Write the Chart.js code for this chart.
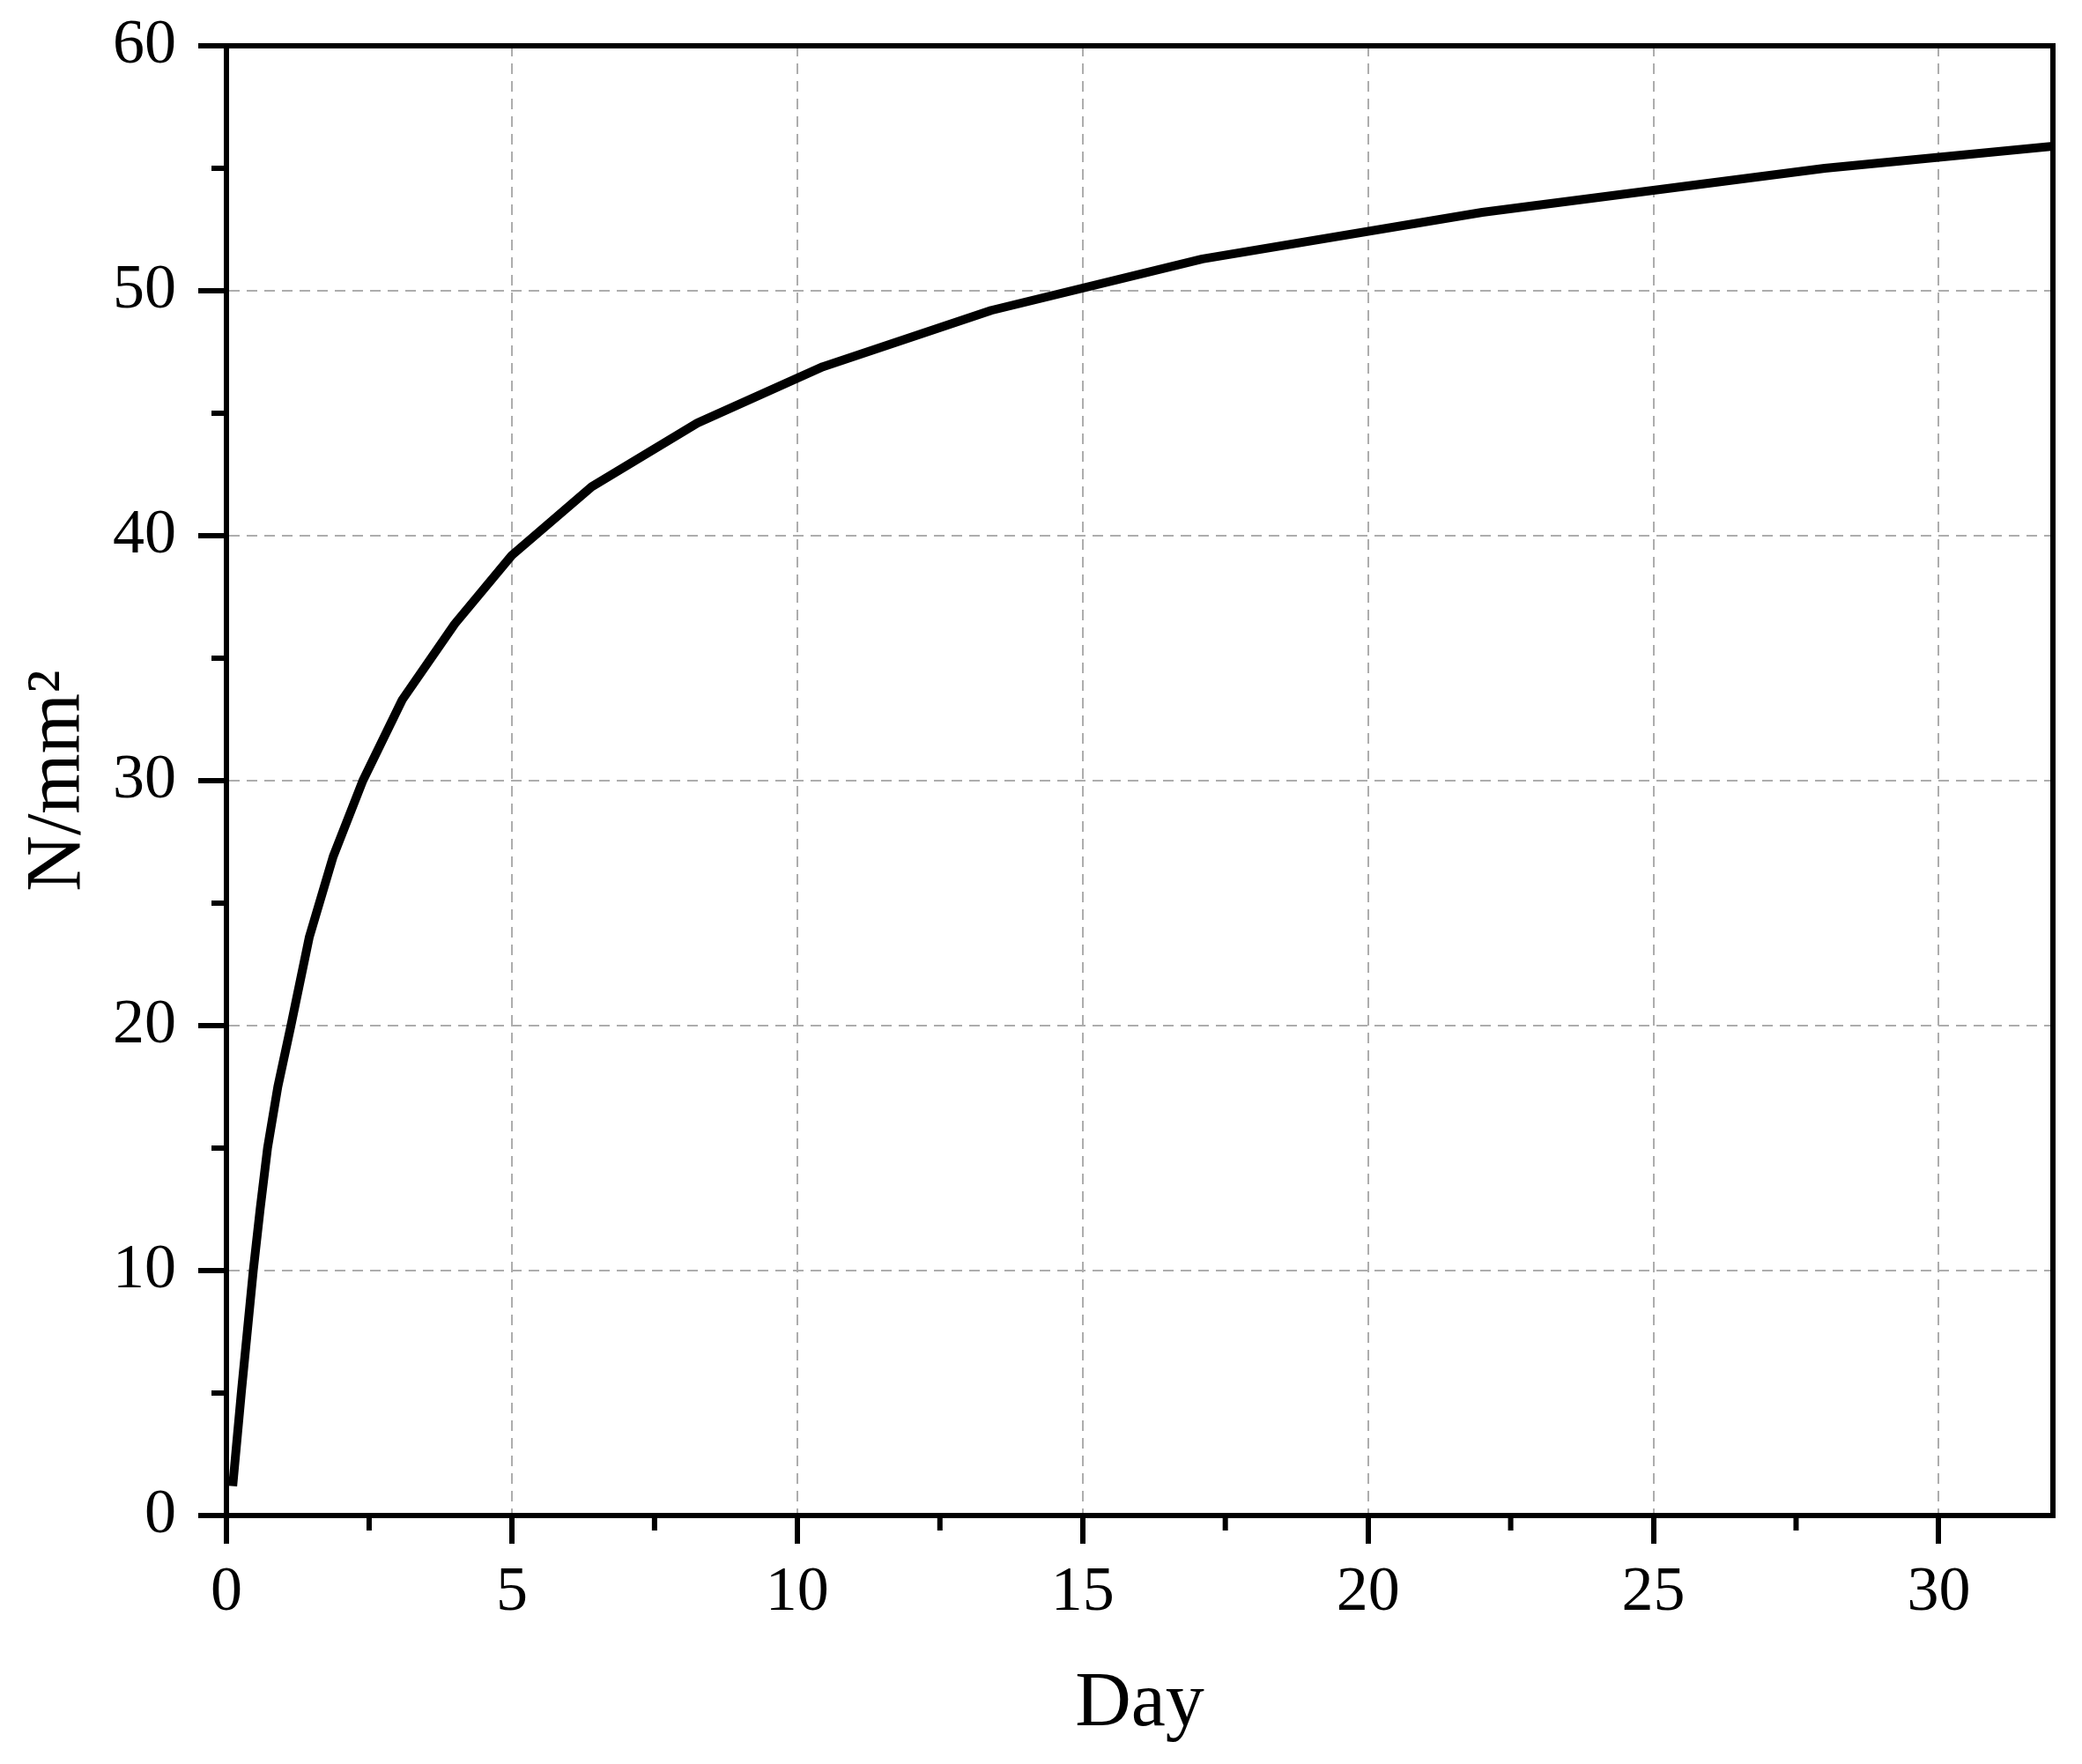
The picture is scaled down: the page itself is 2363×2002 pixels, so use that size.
<!DOCTYPE html>
<html>
<head>
<meta charset="utf-8">
<script src="https://cdn.jsdelivr.net/npm/chart.js@4/dist/chart.umd.min.js"></script>
<style>
  html, body { margin: 0; padding: 0; background: #ffffff; }
  #wrap { width: 2363px; height: 2002px; }
</style>
</head>
<body>
<div id="wrap"><canvas id="c" width="2363" height="2002"></canvas></div>
<script>
// ---- data ----
const days     = [0.11, 0.26, 0.47, 0.59, 0.72, 0.90, 1.13, 1.45, 1.87, 2.39, 3.08, 4.0, 5.0, 6.4, 8.25, 10.45, 13.4, 17.1, 22.0, 28.0, 32.0];
const strength = [1.2, 5.0, 10.0, 12.5, 15.0, 17.5, 20.0, 23.6, 26.9, 30.0, 33.3, 36.4, 39.2, 42.0, 44.6, 46.9, 49.2, 51.3, 53.2, 55.0, 55.9];

const xTicksMajor = [0, 5, 10, 15, 20, 25, 30];
const xTicksMinor = [2.5, 7.5, 12.5, 17.5, 22.5, 27.5];
const yTicksMajor = [0, 10, 20, 30, 40, 50, 60];
const yTicksMinor = [5, 15, 25, 35, 45, 55];

const xTitle = 'Day';
const yTitle = 'N/mm\u00B2';

const points = days.map((d, i) => ({ x: d, y: strength[i] }));

const AXIS_W = 6;
const GRID_COLOR = '#adadad';
const FONT = "'Liberation Serif', 'Times New Roman', serif";

const framePlugin = {
  id: 'frameAndMinor',
  afterDraw(chart) {
    const ctx = chart.ctx;
    const a = chart.chartArea;
    const xs = chart.scales.x, ys = chart.scales.y;
    ctx.save();
    ctx.strokeStyle = '#000';
    ctx.lineWidth = AXIS_W;
    ctx.lineCap = 'butt';
    // top and right frame
    ctx.beginPath();
    ctx.moveTo(a.left - AXIS_W / 2, a.top);
    ctx.lineTo(a.right, a.top);
    ctx.lineTo(a.right, a.bottom + AXIS_W / 2);
    ctx.stroke();
    // minor ticks
    ctx.beginPath();
    xTicksMinor.forEach(v => {
      const px = xs.getPixelForValue(v);
      ctx.moveTo(px, a.bottom);
      ctx.lineTo(px, a.bottom + 17);
    });
    yTicksMinor.forEach(v => {
      const py = ys.getPixelForValue(v);
      ctx.moveTo(a.left, py);
      ctx.lineTo(a.left - 17, py);
    });
    ctx.stroke();
    ctx.restore();
  }
};

new Chart(document.getElementById('c'), {
  type: 'line',
  data: {
    datasets: [{
      data: points,
      borderColor: '#000000',
      borderWidth: 10,
      pointRadius: 0,
      tension: 0,
      fill: false,
      borderJoinStyle: 'round'
    }]
  },
  options: {
    responsive: false,
    devicePixelRatio: 1,
    animation: false,
    layout: { padding: { top: 52, right: 33, left: 0, bottom: 0 } },
    plugins: { legend: { display: false }, tooltip: { enabled: false } },
    scales: {
      x: {
        type: 'linear',
        min: 0, max: 32,
        afterFit(scale) { scale.height = 282; },
        afterBuildTicks(scale) { scale.ticks = xTicksMajor.map(v => ({ value: v })); },
        grid: {
          color: c => (c.tick && c.tick.value === 0) ? 'rgba(0,0,0,0)' : GRID_COLOR,
          lineWidth: 2,
          drawTicks: true,
          tickLength: 32,
          tickWidth: AXIS_W,
          tickColor: '#000',
          tickBorderDash: []
        },
        border: { display: true, color: '#000', width: AXIS_W, dash: [12, 8] },
        ticks: {
          color: '#000',
          padding: 13,
          maxRotation: 0,
          autoSkip: false,
          font: { family: FONT, size: 72 }
        },
        title: {
          display: true,
          text: xTitle,
          color: '#000',
          font: { family: FONT, size: 88 },
          padding: { top: 0, bottom: 14 }
        }
      },
      y: {
        type: 'linear',
        min: 0, max: 60,
        afterFit(scale) { scale.width = 257; },
        afterBuildTicks(scale) { scale.ticks = yTicksMajor.map(v => ({ value: v })); },
        grid: {
          color: c => (c.tick && (c.tick.value === 0 || c.tick.value === 60)) ? 'rgba(0,0,0,0)' : GRID_COLOR,
          lineWidth: 2,
          drawTicks: true,
          tickLength: 32,
          tickWidth: AXIS_W,
          tickColor: '#000',
          tickBorderDash: []
        },
        border: { display: true, color: '#000', width: AXIS_W, dash: [12, 8] },
        ticks: {
          color: '#000',
          padding: 25,
          autoSkip: false,
          font: { family: FONT, size: 72, lineHeight: 0.7 }
        },
        title: {
          display: true,
          text: yTitle,
          color: '#000',
          font: { family: FONT, size: 88 },
          padding: { top: 14, bottom: 0 }
        }
      }
    }
  },
  plugins: [framePlugin]
});
</script>
</body>
</html>
